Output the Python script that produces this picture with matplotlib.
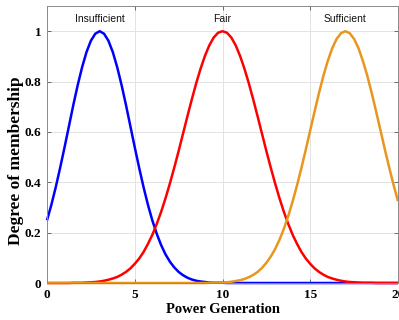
import numpy as np
import matplotlib
matplotlib.use("Agg")
import matplotlib.pyplot as plt

# membership degrees (per mille), every 0.25 on the power axis
power = np.arange(0, 20.001, 0.25)
insufficient = [249, 311, 381, 458, 539, 623, 707, 786, 857, 917, 962, 990, 1000,
                990, 962, 917, 857, 786, 707, 623, 539, 458, 381, 311, 249, 196,
                151, 114, 85, 62, 44, 31, 21, 14, 9, 6, 4, 2, 1, 1, 1] + [0] * 40
fair = [0, 0, 0, 0, 0, 0, 1, 1, 1, 2, 3, 4, 6, 9, 13, 18, 24, 33, 44, 58, 76, 97,
        123, 155, 191, 234, 282, 336, 395, 458, 524, 593, 662, 729, 793, 851, 902,
        944, 975, 994, 1000, 994, 975, 944, 902, 851, 793, 729, 662, 593, 524, 458,
        395, 336, 282, 234, 191, 155, 123, 97, 76, 58, 44, 33, 24, 18, 13, 9, 6, 4,
        3, 2, 1, 1, 1, 0, 0, 0, 0, 0, 0]
sufficient = [0] * 37 + [1, 1, 1, 2, 3, 5, 8, 11, 16, 23, 32, 44, 60, 80, 105, 135,
                         172, 216, 267, 325, 389, 458, 531, 607, 682, 755, 823, 882,
                         932, 969, 992, 1000, 992, 969, 932, 882, 823, 755, 682, 607,
                         531, 458, 389, 325]

labels = ["Insufficient", "Fair", "Sufficient"]
label_x = [3, 10, 17]
colors = ["#0000FF", "#FF0000", "#E8961E"]

xticks = [0, 5, 10, 15, 20]
yticks = [0, 0.2, 0.4, 0.6, 0.8, 1]
ytick_labels = ["0", "0.2", "0.4", "0.6", "0.8", "1"]

serif = {"family": "Liberation Serif", "weight": "bold"}

fig = plt.figure(figsize=(3.99, 3.2), dpi=100)
ax = fig.add_axes([0.1178, 0.1156, 0.8797, 0.8656])

for y, col in zip([insufficient, fair, sufficient], colors):
    ax.plot(power, np.array(y) / 1000.0, color=col, lw=1.8, clip_on=False,
            solid_capstyle="butt")

for lab, lx in zip(labels, label_x):
    ax.text(lx, 1.048, lab, ha="center", va="center", fontsize=7.5,
            family="Liberation Sans", color="#111111")

ax.set_xlim(0, 20)
ax.set_ylim(0, 1.1)
ax.set_xticks(xticks)
ax.set_yticks(yticks)
ax.set_yticklabels(ytick_labels)
for t in ax.get_xticklabels() + ax.get_yticklabels():
    t.set_fontproperties(serif)
    t.set_fontsize(9.5)

ax.grid(True, color="#e3e3e3", lw=0.7)
ax.set_axisbelow(True)
ax.tick_params(direction="in", length=3, width=0.6, color="#555555",
               top=True, right=True, pad=4)
for sp in ax.spines.values():
    sp.set_color("#8a8a8a")
    sp.set_linewidth(0.7)

ax.set_xlabel("Power Generation", fontdict=serif, fontsize=10.5, labelpad=2)
ax.set_ylabel("Degree of membership", fontdict=serif, fontsize=12.5)
ax.yaxis.set_label_coords(-0.066, 0.44)

fig.savefig("out.png", dpi=100)
